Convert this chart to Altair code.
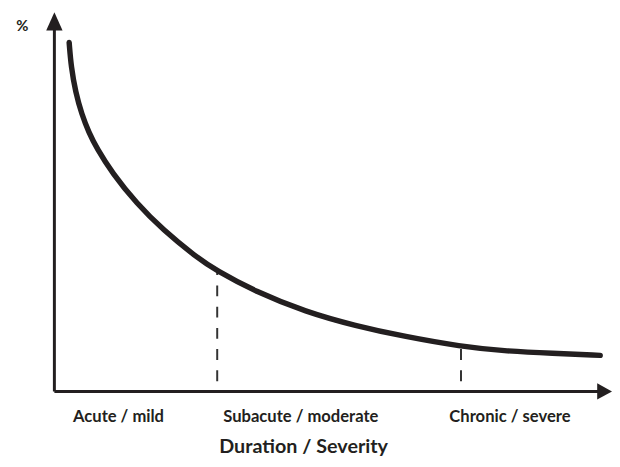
import altair as alt
import pandas as pd

# Curve (duration vs %) (x: 0-100, y: 0-100)
curve_x = [2.65, 3.01, 3.79, 4.92, 6.18, 7.59, 10.35, 14.74, 19.52, 25.36, 29.03,
           35.93, 45.13, 53.98, 62.83, 72.92, 80.53, 89.38, 97.88]
curve_y = [92.0, 85.5, 79.0, 73.0, 68.32, 64.16, 57.65, 49.58, 42.56, 35.53, 31.88,
           26.42, 20.95, 17.31, 14.45, 11.84, 10.67, 10.02, 9.50]

# Dashed markers
marker_x = [29.2, 72.92]
marker_top = [31.6, 11.84]
marker_bottom = [2.7, 2.7]

# Category labels under the axis
categories = ["Acute / mild", "Subacute / moderate", "Chronic / severe"]
category_x = [11.5, 44.2, 81.7]

x_title = "Duration / Severity"
x_title_pos = 44.7
y_title = "%"

FONT = "Lato"
INK = "#231f20"

xs = alt.Scale(domain=[0, 100], range=[47, 612], clamp=False)
ys = alt.Scale(domain=[0, 100], range=[385.5, 1.3], clamp=False)

curve_df = pd.DataFrame({"x": curve_x, "y": curve_y})
marker_df = pd.DataFrame({"x": marker_x, "top": marker_top, "bottom": marker_bottom})
cat_df = pd.DataFrame({"label": categories, "x": category_x})

curve = alt.Chart(curve_df).mark_line(
    interpolate="basis", strokeWidth=5.5, color=INK, strokeCap="round"
).encode(
    x=alt.X("x:Q", scale=xs, axis=None),
    y=alt.Y("y:Q", scale=ys, axis=None),
)

markers = alt.Chart(marker_df).mark_rule(
    strokeDash=[11, 10.5], strokeWidth=2, color="#333333"
).encode(
    x=alt.X("x:Q", scale=xs, axis=None),
    y=alt.Y("bottom:Q", scale=ys, axis=None),
    y2="top:Q",
)

y_axis = alt.Chart(pd.DataFrame({"x": [0], "y": [0], "y2": [95.5]})).mark_rule(
    strokeWidth=3, color=INK
).encode(
    x=alt.X("x:Q", scale=xs, axis=None),
    y=alt.Y("y:Q", scale=ys, axis=None),
    y2="y2:Q",
)

x_axis = alt.Chart(pd.DataFrame({"x": [0], "x2": [97.5], "y": [0]})).mark_rule(
    strokeWidth=3, color=INK
).encode(
    x=alt.X("x:Q", scale=xs, axis=None),
    x2="x2:Q",
    y=alt.Y("y:Q", scale=ys, axis=None),
)

up_arrow = alt.Chart(pd.DataFrame({"x": [0], "y": [100]})).mark_point(
    shape="M-0.9,1L0.9,1L0,-1Z", size=339, filled=True, opacity=1,
    color=INK, yOffset=9.2
).encode(
    x=alt.X("x:Q", scale=xs, axis=None),
    y=alt.Y("y:Q", scale=ys, axis=None),
)

right_arrow = alt.Chart(pd.DataFrame({"x": [100], "y": [0]})).mark_point(
    shape="M-1,-1.1L1,0L-1,1.1Z", size=225, filled=True, opacity=1,
    color=INK, xOffset=-7.5
).encode(
    x=alt.X("x:Q", scale=xs, axis=None),
    y=alt.Y("y:Q", scale=ys, axis=None),
)

cat_labels = alt.Chart(cat_df).mark_text(
    font=FONT, fontSize=16.8, fontWeight="bold", color=INK, baseline="alphabetic", align="center"
).encode(
    x=alt.X("x:Q", scale=xs, axis=None),
    y=alt.value(417),
    text="label:N",
)

title_text = alt.Chart(pd.DataFrame({"t": [x_title], "x": [x_title_pos]})).mark_text(
    font=FONT, fontSize=20, fontWeight="bold", color=INK, baseline="alphabetic", align="center"
).encode(
    x=alt.X("x:Q", scale=xs, axis=None),
    y=alt.value(448),
    text="t:N",
)

pct = alt.Chart(pd.DataFrame({"t": [y_title]})).mark_text(
    font=FONT, fontSize=15, fontWeight="bold", color=INK, baseline="alphabetic", align="center"
).encode(
    x=alt.value(14.5),
    y=alt.value(20),
    text="t:N",
)

chart = alt.layer(
    markers, curve, y_axis, x_axis, up_arrow, right_arrow, cat_labels, title_text, pct
).properties(
    width=612, height=451,
    autosize=alt.AutoSizeParams(type="none"),
    padding=0,
).configure_view(stroke=None)

chart.save("out.html", embed_options={"renderer": "svg", "actions": False})
